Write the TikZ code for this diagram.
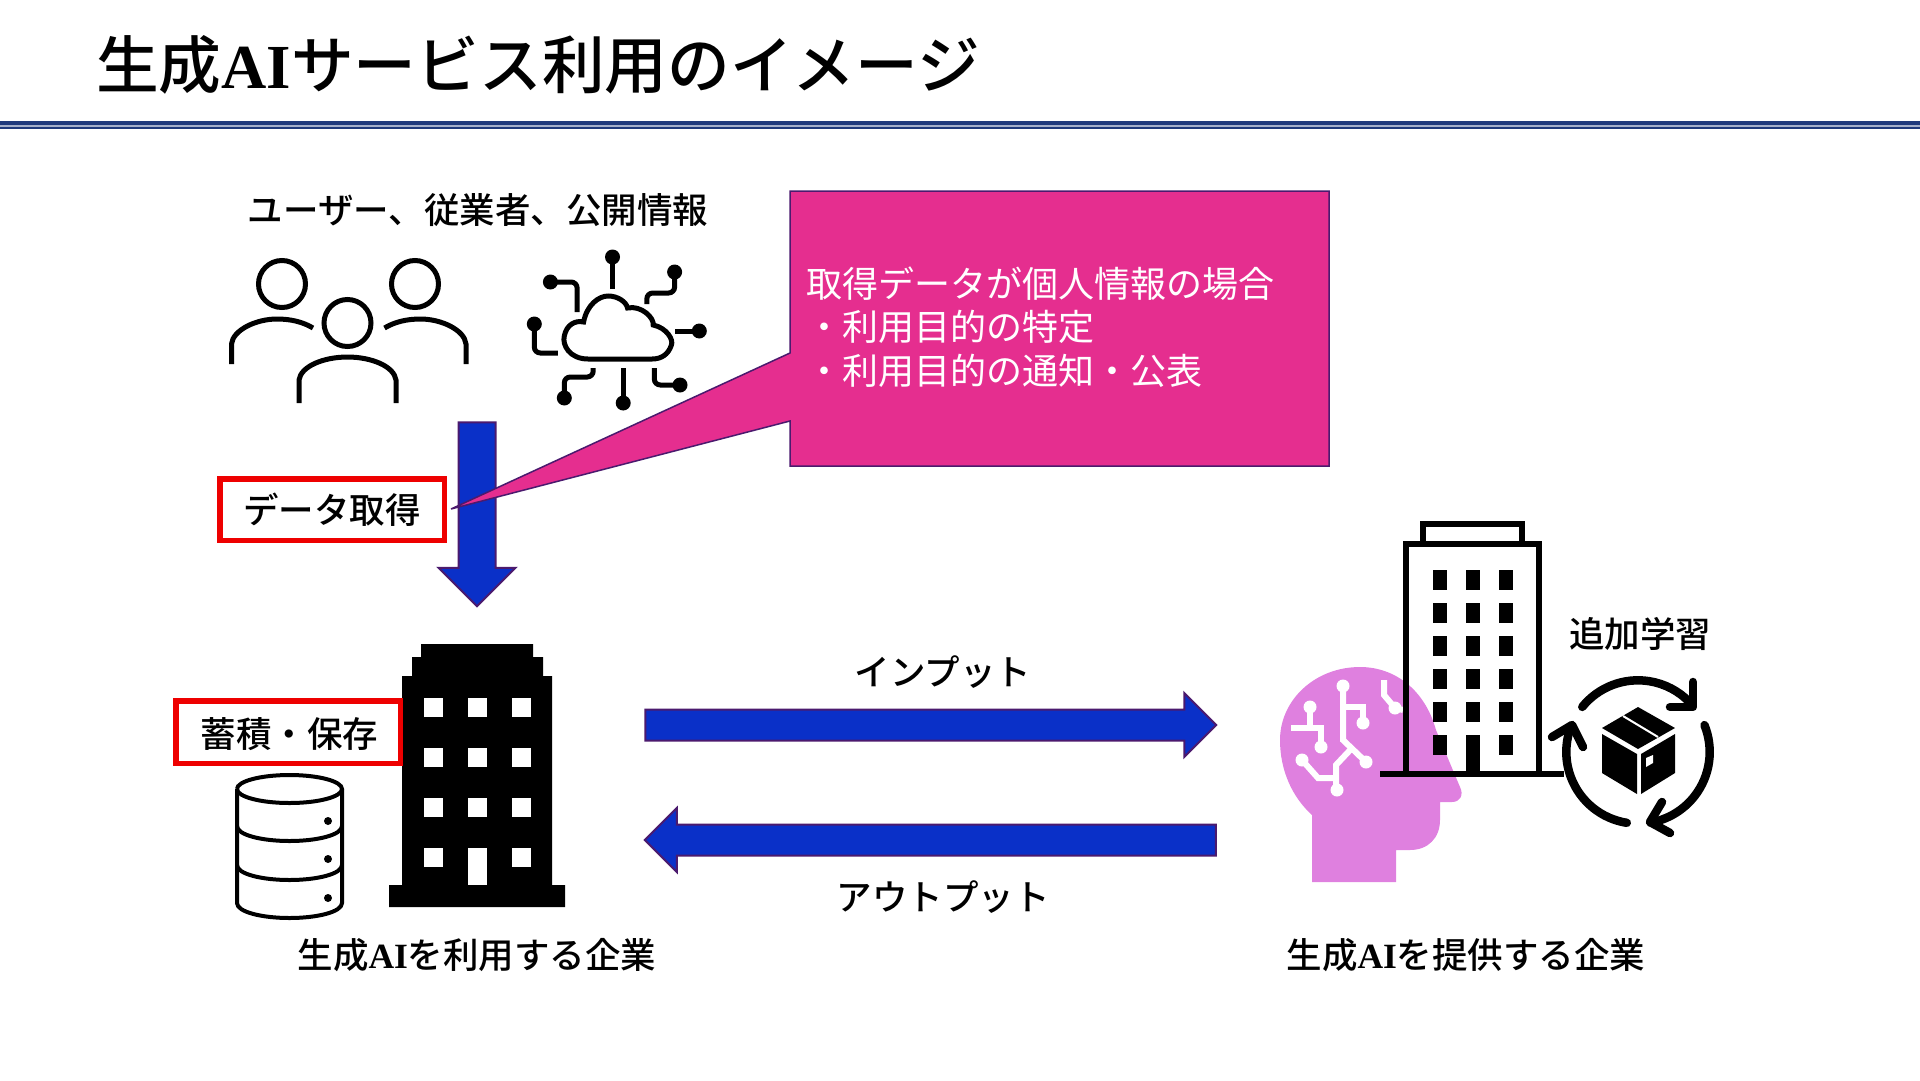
\documentclass[tikz,border=0pt]{standalone}
\usepackage{fontspec}
\usepackage{xcolor}
\usetikzlibrary{shapes.arrows}
\setmainfont{Noto Sans CJK JP}
\newfontfamily\mediumfont{Noto Sans CJK JP Medium}
\newfontfamily\latinfont{Liberation Serif}
\definecolor{rulenavy}{HTML}{1F3A7D}
\definecolor{arrowblue}{HTML}{0A30C8}
\definecolor{arrowedge}{HTML}{4B1A6E}
\definecolor{noteink}{HTML}{E52E8F}
\definecolor{boxred}{HTML}{EE0000}
\definecolor{headpink}{HTML}{DF80DF}

\begin{document}
\begin{tikzpicture}[x=1pt,y=-1pt,
  label/.style={inner sep=0pt, font=\fontsize{35.5pt}{43.5pt}\mediumfont},
  redbox/.style={draw=boxred, fill=white, line width=5.5pt, inner sep=0pt, minimum width=224.5pt, font=\fontsize{35.5pt}{43.5pt}\mediumfont},
  blockarrow/.style={single arrow, draw=arrowedge, fill=arrowblue, line width=2pt, inner xsep=0pt, single arrow head indent=0pt},
  icon/.style={draw=black, line width=5pt, line cap=butt},
  lead/.style={draw=black, line width=5pt, rounded corners=6pt},
  trace/.style={draw=white, line width=6pt},
  cyc/.style={draw=black, line width=8.5pt, line cap=round, line join=round}]
\useasboundingbox (0,0) rectangle (1920,1080);
\node[anchor=west, inner sep=0pt, font=\fontsize{62.7pt}{70pt}\mediumfont] (title) at (96,65) {生成{\latinfont\bfseries AI}サービス利用のイメージ};
\fill[rulenavy] (0,120.5) rectangle (1920,125);
\fill[rulenavy!40] (0,125) rectangle (1920,127);
\fill[rulenavy] (0,127) rectangle (1920,129);
\node[label] (users) at (478,210) {ユーザー、従業者、公開情報};
\draw[icon] (282,284) circle (23.5);
\draw[icon] (415,284) circle (23.5);
\draw[icon] (347.5,323) circle (23.5);
\draw[icon] (231.5,364) -- (231.5,344) .. controls (233,330) and (256,319) .. (277,319) .. controls (291,319) and (303,322) .. (313,328);
\draw[icon] (466,364) -- (466,344) .. controls (464.5,330) and (441.5,319) .. (420.5,319) .. controls (406.5,319) and (394.5,322) .. (384.5,328);
\draw[icon] (299,403) -- (299,380) .. controls (301,366) and (324,357) .. (347.5,357) .. controls (371,357) and (394,366) .. (396,380) -- (396,403);
\draw[lead,rounded corners=0pt] (588,359) .. controls (569.6,359) and (562,345) .. (564.3,336) .. controls (566.4,325) and (575,320) .. (583.6,322) .. controls (586.8,305) and (598.6,296) .. (608.2,296) .. controls (617.9,296) and (626.4,302) .. (627.5,308) .. controls (641.4,305) and (654.3,318) .. (653.2,325) .. controls (667.1,328) and (673.6,340) .. (671.4,345) .. controls (668.2,355) and (660.7,359) .. (652.1,359) -- cycle;
\draw[lead] (612.5,289) -- (612.5,257);
\draw[lead] (550.4,282) -- (577.1,282) -- (577.1,312);
\draw[lead] (674.6,272) -- (674.6,293) -- (646.8,293) -- (646.8,304);
\draw[lead] (699.3,331) -- (674.6,331);
\draw[lead] (534.3,324) -- (534.3,353) -- (557.9,353);
\draw[lead] (593.2,368) -- (593.2,377) -- (564.3,377) -- (564.3,398);
\draw[lead] (623.2,368) -- (623.2,403);
\draw[lead] (654.3,368) -- (654.3,385) -- (680,385);
\foreach \px/\py in {612.5/257,550.4/282,674.6/272,699.3/331,534.3/324,564.3/398,623.2/403,680/385}
  \fill[black] (\px,\py) circle (7.5);
\node[blockarrow, rotate=-90, minimum height=184pt, inner ysep=17.5pt, single arrow head extend=20pt] (getarrow) at (477,505) {};
\node[redbox, minimum height=61.5pt] (getbox) at (332,509.5) {データ取得};
\draw[draw=arrowedge, fill=noteink, line width=1.5pt] (790,191) -- (1329,191) -- (1329,466) -- (790,466) -- (790,421) -- (451,509) -- (790,353) -- cycle;
\node[inner sep=0pt, font=\fontsize{36pt}{43.5pt}\selectfont, text=white, anchor=west, align=left] (note) at (806,327) {取得データが個人情報の場合\\・利用目的の特定\\・利用目的の通知・公表};
\fill[black] (421,644) -- (533,644) -- (533,657) -- (543,657) -- (543,676) -- (552,676) -- (552,885) -- (565,885) -- (565,907) -- (389,907) -- (389,885) -- (402,885) -- (402,676) -- (412,676) -- (412,657) -- (421,657) -- cycle;
\foreach \wx in {424,468,512}
  \foreach \wy in {698,748,798,848}
    \fill[white] (\wx,\wy) rectangle +(18.5,18.5);
\fill[white] (468,848) rectangle (486.5,885);
\node[redbox, minimum height=62.5pt, text depth=0pt] (storebox) at (288,732) {\hspace{3pt}蓄積・保存};
\draw[icon,line width=4pt] (237,789) arc[start angle=180,end angle=540,x radius=52.5,y radius=14];
\draw[icon,line width=4pt] (237,789) -- (237,903) .. controls (237,912) and (262,918) .. (289.5,918) .. controls (317,918) and (342,912) .. (342,903) -- (342,789);
\draw[icon,line width=4pt] (237,826) .. controls (237,835) and (262,841) .. (289.5,841) .. controls (317,841) and (342,835) .. (342,826);
\draw[icon,line width=4pt] (237,865) .. controls (237,874) and (262,880) .. (289.5,880) .. controls (317,880) and (342,874) .. (342,865);
\foreach \dy in {821,859,898}
  \fill[black] (328,\dy) circle (4);
\node[label] (useco) at (477,955) {生成{\latinfont\bfseries AI}を利用する企業};
\node[blockarrow, minimum height=571pt, inner ysep=14.5pt, single arrow head extend=16.5pt] (inarrow) at (923,725) {};
\node[blockarrow, shape border rotate=180, minimum height=571pt, inner ysep=14.5pt, single arrow head extend=16.5pt] (outarrow) at (938,840) {};
\node[label] (inlabel) at (943,672) {インプット};
\node[label] (outlabel) at (943,897) {アウトプット};
\fill[headpink] (1312,882) -- (1396,882) -- (1396,850) -- (1410,850) .. controls (1428,850) and (1440,838) .. (1440,820) -- (1440,802) -- (1452,802) .. controls (1460,802) and (1464,795) .. (1460,787) -- (1436,730) .. controls (1425,690) and (1395,667) .. (1360,667) .. controls (1315,667) and (1280,700) .. (1280,740) .. controls (1280,770) and (1292,797) .. (1312,815) -- cycle;
\draw[trace] (1343,686) -- (1343,740) -- (1366,762);
\draw[trace] (1352,748) -- (1336,765) -- (1336,790);
\draw[trace] (1343,707) -- (1363,707) -- (1363,723);
\draw[trace] (1310,707) -- (1310,728);
\draw[trace] (1291,728) -- (1321,728) -- (1321,747);
\draw[trace] (1302,760) -- (1318,778) -- (1336,778);
\draw[trace] (1384,680) -- (1384,695) -- (1395,708) -- (1403,710);
\foreach \px/\py in {1343/686,1366/762,1337/790,1363/723,1310/707,1321/747,1302/760,1395/708}
  \fill[white] (\px,\py) circle (6.5);
\draw[icon,line width=6.5pt] (1406,774) -- (1406,544) -- (1539,544) -- (1539,774);
\draw[icon,line width=6.5pt] (1423,544) -- (1423,524) -- (1522,524) -- (1522,544);
\draw[icon,line width=6.5pt] (1380,774) -- (1564,774);
\foreach \wx in {1433,1466,1499}
  \foreach \wy in {570,603,636,669,702,735}
    \fill[black] (\wx,\wy) rectangle +(13.5,20);
\fill[black] (1466,735) rectangle (1479.5,772);
\node[label] (provco) at (1466,955) {生成{\latinfont\bfseries AI}を提供する企業};
\node[label] (relearn) at (1640,634) {追加学習};
\coordinate (cyc) at (1638,752);
\draw[cyc] (cyc) ++(-141:71.7) arc[start angle=-141,end angle=-44,radius=71.7];
\draw[cyc] (cyc) ++(-22:71.7) arc[start angle=-22,end angle=80,radius=71.7];
\draw[cyc] (cyc) ++(99:71.7) arc[start angle=99,end angle=200,radius=71.7];
\draw[cyc] (1693,682) -- (1693,707) -- (1670,707);
\draw[cyc] (1662,802) -- (1650,822) -- (1670,833);
\draw[cyc] (1552,737) -- (1572,725) -- (1583,747);
\fill[black] (1638,707) -- (1675,728) -- (1638,749) -- (1602,728) -- cycle;
\draw[white,line width=2pt] (1623,716) -- (1658,737);
\fill[black] (1602,734) -- (1637,754) -- (1637,794) -- (1602,773) -- cycle;
\fill[black] (1641,754) -- (1675,734) -- (1675,773) -- (1641,794) -- cycle;
\fill[white] (1646,758) -- (1653,755) -- (1653,763) -- (1646,767) -- cycle;
\end{tikzpicture}
\end{document}
